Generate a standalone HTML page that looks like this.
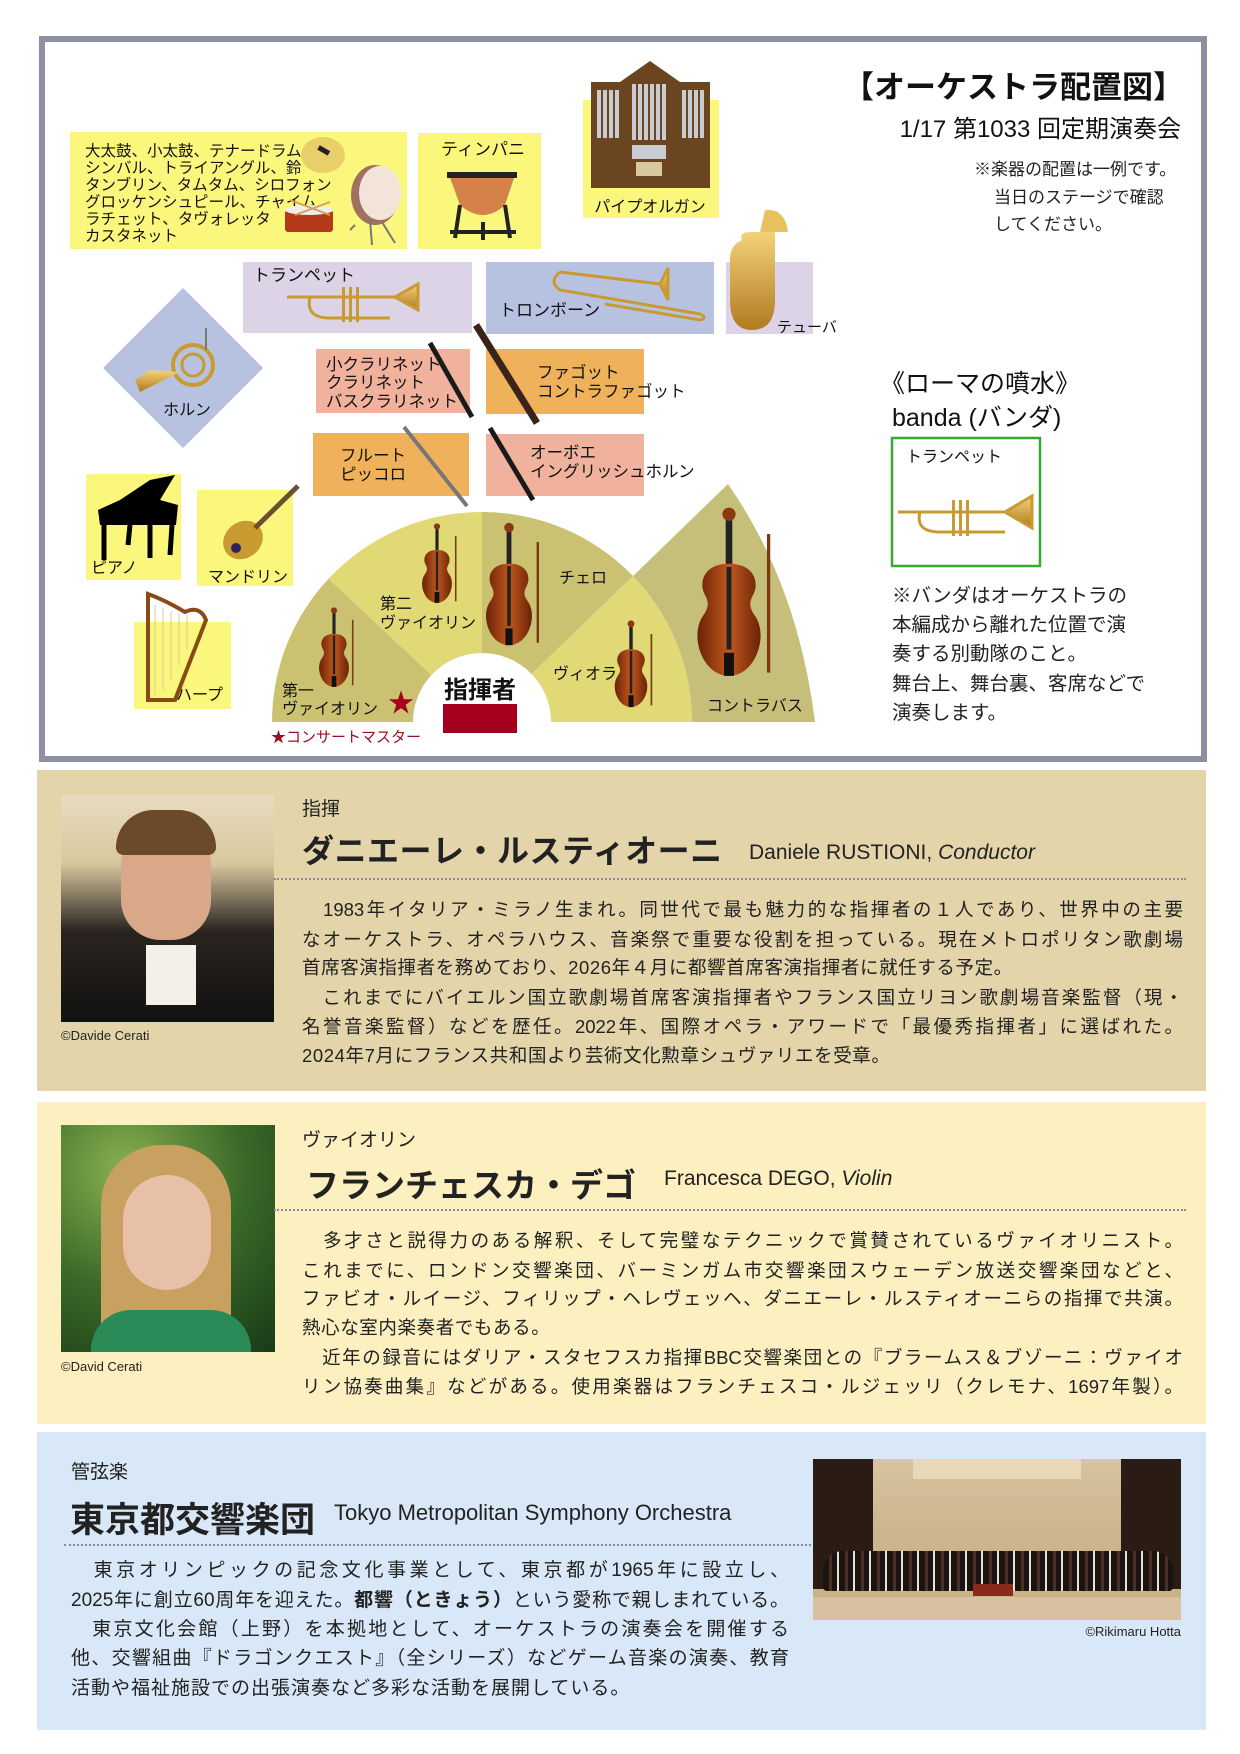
<!DOCTYPE html>
<html><head><meta charset="utf-8">
<style>
*{margin:0;padding:0;box-sizing:border-box}
body{width:1240px;height:1754px;background:#fff;position:relative;overflow:hidden;font-family:"Liberation Sans","Noto Sans CJK JP",sans-serif;color:#222}
.a{position:absolute;white-space:nowrap}
.ln{position:absolute;white-space:nowrap;line-height:1}
.j{text-align:justify;text-align-last:justify}
.panel{position:absolute;left:37px;width:1169px}
.dot{position:absolute;border-top:2px dotted #8a8aa0;height:0}
</style></head><body>

<svg class="a" style="left:0;top:0" width="1240" height="770" viewBox="0 0 1240 770" font-family="Liberation Sans, Noto Sans CJK JP, sans-serif">
<defs>
<linearGradient id="wood" x1="0" x2="1"><stop offset="0" stop-color="#6a2208"/><stop offset=".5" stop-color="#c0581c"/><stop offset="1" stop-color="#6a2208"/></linearGradient>
<linearGradient id="gold" x1="0" x2="0" y1="0" y2="1"><stop offset="0" stop-color="#f4d27a"/><stop offset="1" stop-color="#b07a20"/></linearGradient>
<g id="vln">
<rect x="-2" y="-50" width="4" height="32" fill="#222"/>
<circle cx="0" cy="-52" r="4" fill="#8a3a10"/>
<path d="M0,-22 C-16,-22 -18,-10 -15,-4 C-12,2 -12,4 -16,10 C-24,22 -16,46 0,46 C16,46 24,22 16,10 C12,4 12,2 15,-4 C18,-10 16,-22 0,-22Z" fill="url(#wood)"/>
<rect x="-1.5" y="-20" width="3" height="50" fill="#222"/>
<rect x="-3" y="32" width="6" height="14" fill="#111"/>
<line x1="24" y1="-40" x2="24" y2="44" stroke="#7a3a14" stroke-width="2"/>
</g>
</defs>
<rect x="42" y="39" width="1162" height="720" fill="#fff" stroke="#8c90a2" stroke-width="6"/>

<rect x="70" y="132" width="337" height="117" fill="#fbf77c"/>
<g font-size="15.5" fill="#111">
<text x="85" y="156">大太鼓、小太鼓、テナードラム</text>
<text x="85" y="173">シンバル、トライアングル、鈴</text>
<text x="85" y="190">タンブリン、タムタム、シロフォン</text>
<text x="85" y="207">グロッケンシュピール、チャイム</text>
<text x="85" y="224">ラチェット、タヴォレッタ</text>
<text x="85" y="241">カスタネット</text>
</g>
<ellipse cx="323" cy="155" rx="22" ry="18" fill="#e8cf6a"/><rect x="318" y="148" width="12" height="5" fill="#222" transform="rotate(30 324 150)"/>
<ellipse cx="375" cy="195" rx="24" ry="30" fill="#a07060"/><ellipse cx="380" cy="193" rx="21" ry="27" fill="#f3e4da"/>
<path d="M355,225 L350,230 M370,220 L372,245 M382,222 L395,243" stroke="#777" stroke-width="2"/>
<rect x="285" y="210" width="48" height="22" fill="#b53a1a" rx="3"/><ellipse cx="309" cy="210" rx="24" ry="5" fill="#eee"/>
<line x1="290" y1="200" x2="330" y2="215" stroke="#d8a050" stroke-width="2"/><line x1="295" y1="215" x2="330" y2="202" stroke="#d8a050" stroke-width="2"/>
<rect x="418" y="133" width="123" height="116" fill="#fbf77c"/>
<text x="483" y="155" font-size="17" text-anchor="middle" fill="#111">ティンパニ</text>
<path d="M449,175 L515,175 L505,205 Q483,225 460,205 Z" fill="#d5814a"/>
<rect x="447" y="172" width="70" height="6" fill="#222"/>
<path d="M460,205 L455,238 M505,205 L510,238 M483,222 L483,240 M450,232 L516,232" stroke="#222" stroke-width="4"/>
<rect x="583" y="100" width="136" height="118" fill="#fbf77c"/>
<path d="M591,82 L620,82 L650,61 L680,82 L710,82 L710,188 L591,188 Z" fill="#6b4520"/>
<g fill="#c8ccd2">
<rect x="597" y="90" width="4" height="48"/><rect x="603" y="90" width="4" height="48"/><rect x="609" y="90" width="4" height="48"/><rect x="615" y="90" width="4" height="48"/>
<rect x="632" y="84" width="4" height="56"/><rect x="638" y="84" width="4" height="56"/><rect x="644" y="84" width="4" height="56"/><rect x="650" y="84" width="4" height="56"/><rect x="656" y="84" width="4" height="56"/><rect x="662" y="84" width="4" height="56"/>
<rect x="682" y="90" width="4" height="48"/><rect x="688" y="90" width="4" height="48"/><rect x="694" y="90" width="4" height="48"/><rect x="700" y="90" width="4" height="48"/>
<rect x="632" y="145" width="34" height="14"/>
</g>
<rect x="636" y="162" width="26" height="14" fill="#d8c8a0"/>
<text x="650" y="212" font-size="16" text-anchor="middle" fill="#111">パイプオルガン</text>

<rect x="243" y="262" width="229" height="71" fill="#dcd4e6"/>
<text x="253" y="281" font-size="17" fill="#111">トランペット</text>
<g stroke="#c99a30" fill="none" stroke-width="3"><path d="M287,297 L395,297"/><path d="M310,297 Q305,318 330,318 L390,318"/><path d="M395,297 L418,284 L418,310 Z" fill="url(#gold)"/></g>
<g fill="#c99a30"><rect x="342" y="287" width="3" height="35"/><rect x="349" y="287" width="3" height="35"/><rect x="356" y="287" width="3" height="35"/></g>
<rect x="486" y="262" width="228" height="72" fill="#b7c2e0"/>
<text x="499" y="316" font-size="17" fill="#111">トロンボーン</text>
<g stroke="#c99a30" fill="none" stroke-width="3"><path d="M560,272 L660,284"/><path d="M560,272 Q548,282 560,290 L700,314 Q708,318 700,320 L605,304"/><path d="M660,284 L668,268 L668,300 Z" fill="url(#gold)"/></g>
<rect x="726" y="262" width="87" height="72" fill="#dcd4e6"/>
<path d="M742,240 Q738,232 752,232 L775,232 L775,300 Q775,330 752,330 Q730,330 730,300 L730,260 Q730,245 742,240Z" fill="url(#gold)"/>
<path d="M760,232 L765,210 Q785,208 788,232 Z" fill="#e8c060"/>
<text x="777" y="332" font-size="15" fill="#111">テューバ</text>
<polygon points="183,288 263,368 183,448 103,368" fill="#b7c2e0"/>
<circle cx="193" cy="365" r="20" fill="none" stroke="#c99a30" stroke-width="4"/>
<circle cx="193" cy="365" r="11" fill="none" stroke="#c99a30" stroke-width="3"/>
<path d="M180,372 L140,392 L135,380 L150,370 Z" fill="url(#gold)"/>
<line x1="206" y1="350" x2="206" y2="328" stroke="#777" stroke-width="2"/>
<text x="187" y="415" font-size="16" text-anchor="middle" fill="#111">ホルン</text>

<rect x="316" y="349" width="154" height="64" fill="#f0b29c"/>
<g font-size="16.5" fill="#111"><text x="326" y="370">小クラリネット</text><text x="326" y="388">クラリネット</text><text x="326" y="407">バスクラリネット</text></g>
<line x1="430" y1="343" x2="472" y2="417" stroke="#1a1a1a" stroke-width="5"/>
<rect x="486" y="349" width="158" height="65" fill="#efb25a"/>
<g font-size="16.5" fill="#111"><text x="537" y="378">ファゴット</text><text x="537" y="397">コントラファゴット</text></g>
<line x1="476" y1="325" x2="537" y2="423" stroke="#3a2418" stroke-width="7"/>
<rect x="313" y="433" width="156" height="63" fill="#efb25a"/>
<g font-size="16.5" fill="#111"><text x="340" y="461">フルート</text><text x="340" y="480">ピッコロ</text></g>
<line x1="404" y1="427" x2="467" y2="506" stroke="#777" stroke-width="4"/>
<rect x="486" y="434" width="158" height="62" fill="#f0b29c"/>
<g font-size="16.5" fill="#111"><text x="530" y="458">オーボエ</text><text x="530" y="477">イングリッシュホルン</text></g>
<line x1="490" y1="428" x2="533" y2="500" stroke="#1a1a1a" stroke-width="5"/>

<rect x="86" y="474" width="95" height="106" fill="#fbf77c"/>
<path d="M120,500 L150,480 L175,475 L160,500 L178,505 L176,525 L100,525 L98,510 Z" fill="#000"/>
<path d="M104,525 L104,560 M150,525 L150,558 M172,525 L170,555 M130,525 L128,545" stroke="#000" stroke-width="5"/>
<text x="91" y="573" font-size="16" fill="#111">ピアノ</text>
<rect x="197" y="490" width="96" height="96" fill="#fbf77c"/>
<ellipse cx="243" cy="540" rx="21" ry="18" fill="#c89a30" transform="rotate(-40 243 540)"/>
<line x1="255" y1="528" x2="298" y2="486" stroke="#6a5030" stroke-width="5"/>
<circle cx="236" cy="548" r="5" fill="#302060"/>
<text x="208" y="582" font-size="16" fill="#111">マンドリン</text>
<rect x="134" y="622" width="97" height="87" fill="#fbf77c"/>
<path d="M148,594 L148,700 L175,700 L206,620 Q200,605 185,612 Q165,600 148,594Z" fill="none" stroke="#8a4a18" stroke-width="4"/>
<g stroke="#d8c8a0" stroke-width="1"><line x1="155" y1="605" x2="155" y2="695"/><line x1="163" y1="608" x2="163" y2="690"/><line x1="171" y1="611" x2="171" y2="680"/><line x1="179" y1="613" x2="179" y2="665"/><line x1="187" y1="614" x2="187" y2="650"/></g>
<text x="176" y="700" font-size="16" fill="#111">ハープ</text>

<path d="M413,722 L272,722 A210,210 0 0 1 328.5,578.8 L431.5,675 A69,69 0 0 0 413,722Z" fill="#cac271"/>
<path d="M431.5,675 L328.5,578.8 A210,210 0 0 1 482,512 L482,653 A69,69 0 0 0 431.5,675Z" fill="#e0d975"/>
<path d="M482,653 L482,512 A210,210 0 0 1 633,576 L531.6,674 A69,69 0 0 0 482,653Z" fill="#cac271"/>
<path d="M531.6,674 L633,576 A210,210 0 0 1 692,722 L551,722 A69,69 0 0 0 531.6,674Z" fill="#e0d975"/>
<path d="M633,576 L728,484 Q798,585 815,722 L692,722 A210,210 0 0 0 633,576Z" fill="#c6bf79"/>
<use href="#vln" transform="translate(334,651) scale(0.78)"/>
<use href="#vln" transform="translate(437,567) scale(0.78)"/>
<use href="#vln" transform="translate(509,590) scale(1.2)"/>
<use href="#vln" transform="translate(631,668) scale(0.85)"/>
<use href="#vln" transform="translate(729,600) scale(1.65)"/>
<g font-size="16" fill="#111">
<text x="282" y="696">第一</text><text x="282" y="714">ヴァイオリン</text>
<text x="380" y="609">第二</text><text x="380" y="628">ヴァイオリン</text>
<text x="559" y="583">チェロ</text>
<text x="553" y="679">ヴィオラ</text>
<text x="707" y="711">コントラバス</text>
</g>
<text x="401" y="712" font-size="26" fill="#a8001c" text-anchor="middle">★</text>
<text x="480" y="698" font-size="24" font-weight="bold" fill="#111" text-anchor="middle">指揮者</text>
<rect x="443" y="704" width="74" height="29" fill="#a5001e"/>
<text x="271" y="742" font-size="15" fill="#9a1020">★コンサートマスター</text>

<text x="1184" y="98" font-size="31" fill="#111" text-anchor="end" font-weight="600">【オーケストラ配置図】</text>
<text x="1181" y="137" font-size="24" fill="#111" text-anchor="end">1/17 第1033 回定期演奏会</text>
<g font-size="17" fill="#222"><text x="974" y="175">※楽器の配置は一例です。</text><text x="994" y="203">当日のステージで確認</text><text x="994" y="230">してください。</text></g>
<text x="880" y="392" font-size="25" fill="#111">《ローマの噴水》</text>
<text x="892" y="426" font-size="25" fill="#111">banda (バンダ)</text>
<rect x="892" y="438" width="148" height="128" fill="#fff" stroke="#3aa830" stroke-width="2.5"/>
<text x="906" y="462" font-size="16" fill="#111">トランペット</text>
<g stroke="#c99a30" fill="none" stroke-width="3"><path d="M898,512 L1010,512"/><path d="M920,512 Q915,532 940,532 L1005,532"/><path d="M1005,512 L1032,496 L1032,528 Z" fill="url(#gold)"/></g>
<g fill="#c99a30"><rect x="952" y="500" width="3" height="36"/><rect x="959" y="500" width="3" height="36"/><rect x="966" y="500" width="3" height="36"/></g>
<g font-size="19.5" fill="#222">
<text x="892" y="602">※バンダはオーケストラの</text>
<text x="892" y="631">本編成から離れた位置で演</text>
<text x="892" y="660">奏する別動隊のこと。</text>
<text x="892" y="690">舞台上、舞台裏、客席などで</text>
<text x="892" y="719">演奏します。</text>
</g>
</svg>

<div class="panel" style="top:770px;height:321px;background:#e3d4a9"></div>
<div class="a" style="left:61px;top:795px;width:213px;height:227px;background:linear-gradient(180deg,#e8dcc0 0%,#d8c8a0 30%,#2a2420 60%,#111 100%)">
 <div class="a" style="left:60px;top:25px;width:90px;height:120px;border-radius:45px 45px 40px 40px;background:#d8a888"></div>
 <div class="a" style="left:55px;top:15px;width:100px;height:45px;border-radius:50px 50px 10px 10px;background:#6a4a2a"></div>
 <div class="a" style="left:85px;top:150px;width:50px;height:60px;background:#f4f0e8"></div>
</div>
<div class="a" style="left:61px;top:1028px;font-size:13px">©Davide Cerati</div>
<div class="a" style="left:302px;top:794px;font-size:19px">指揮</div>
<div class="a" style="left:302px;top:826px;font-size:32px;font-weight:bold;letter-spacing:0.5px">ダニエーレ・ルスティオーニ</div>
<div class="a" style="left:749px;top:841px;font-size:21px">Daniele RUSTIONI, <i>Conductor</i></div>
<div class="dot" style="left:274px;top:878px;width:912px"></div>
<div style="position:absolute;left:302px;top:0;width:881px;font-size:18.5px">
<div class="ln j" style="top:901px;width:881px">　1983年イタリア・ミラノ生まれ。同世代で最も魅力的な指揮者の１人であり、世界中の主要</div>
<div class="ln j" style="top:931px;width:881px">なオーケストラ、オペラハウス、音楽祭で重要な役割を担っている。現在メトロポリタン歌劇場</div>
<div class="ln" style="top:959px;letter-spacing:0.6px">首席客演指揮者を務めており、2026年４月に都響首席客演指揮者に就任する予定。</div>
<div class="ln j" style="top:989px;width:881px">　これまでにバイエルン国立歌劇場首席客演指揮者やフランス国立リヨン歌劇場音楽監督（現・</div>
<div class="ln j" style="top:1018px;width:881px">名誉音楽監督）などを歴任。2022年、国際オペラ・アワードで「最優秀指揮者」に選ばれた。</div>
<div class="ln" style="top:1047px;letter-spacing:0.6px">2024年7月にフランス共和国より芸術文化勲章シュヴァリエを受章。</div>
</div>

<div class="panel" style="top:1102px;height:322px;background:#fcefc0"></div>
<div class="a" style="left:61px;top:1125px;width:214px;height:227px;background:radial-gradient(circle at 30% 20%,#8ab050,#3a6a28 50%,#1a3a18 100%)">
 <div class="a" style="left:40px;top:20px;width:130px;height:207px;border-radius:60px 60px 10px 10px;background:#c8a060"></div>
 <div class="a" style="left:62px;top:50px;width:88px;height:115px;border-radius:44px;background:#e8c0a8"></div>
 <div class="a" style="left:30px;top:185px;width:160px;height:42px;border-radius:40px 40px 0 0;background:#2a8a58"></div>
</div>
<div class="a" style="left:61px;top:1359px;font-size:13px">©David Cerati</div>
<div class="a" style="left:302px;top:1125px;font-size:19px">ヴァイオリン</div>
<div class="a" style="left:306px;top:1159px;font-size:33px;font-weight:bold">フランチェスカ・デゴ</div>
<div class="a" style="left:664px;top:1167px;font-size:21px">Francesca DEGO, <i>Violin</i></div>
<div class="dot" style="left:274px;top:1209px;width:912px"></div>
<div style="position:absolute;left:302px;top:0;width:881px;font-size:18.5px">
<div class="ln j" style="top:1232px;width:881px">　多才さと説得力のある解釈、そして完璧なテクニックで賞賛されているヴァイオリニスト。</div>
<div class="ln j" style="top:1262px;width:881px">これまでに、ロンドン交響楽団、バーミンガム市交響楽団スウェーデン放送交響楽団などと、</div>
<div class="ln j" style="top:1290px;width:881px">ファビオ・ルイージ、フィリップ・ヘレヴェッヘ、ダニエーレ・ルスティオーニらの指揮で共演。</div>
<div class="ln" style="top:1319px;letter-spacing:0.6px">熱心な室内楽奏者でもある。</div>
<div class="ln j" style="top:1349px;width:881px">　近年の録音にはダリア・スタセフスカ指揮BBC交響楽団との『ブラームス＆ブゾーニ：ヴァイオ</div>
<div class="ln j" style="top:1378px;width:881px">リン協奏曲集』などがある。使用楽器はフランチェスコ・ルジェッリ（クレモナ、1697年製）。</div>
</div>

<div class="panel" style="top:1432px;height:298px;background:#d9e8f8"></div>
<div class="a" style="left:71px;top:1457px;font-size:19px">管弦楽</div>
<div class="a" style="left:70px;top:1492px;font-size:35px;font-weight:bold">東京都交響楽団</div>
<div class="a" style="left:334px;top:1500px;font-size:22px">Tokyo Metropolitan Symphony Orchestra</div>
<div class="dot" style="left:64px;top:1544px;width:747px"></div>
<div style="position:absolute;left:71px;top:0;width:718px;font-size:19px">
<div class="ln j" style="top:1561px;width:718px">　東京オリンピックの記念文化事業として、東京都が1965年に設立し、</div>
<div class="ln j" style="top:1591px;width:718px">2025年に創立60周年を迎えた。<b>都響（ときょう）</b>という愛称で親しまれている。</div>
<div class="ln j" style="top:1620px;width:718px">　東京文化会館（上野）を本拠地として、オーケストラの演奏会を開催する</div>
<div class="ln j" style="top:1649px;width:718px">他、交響組曲『ドラゴンクエスト』（全シリーズ）などゲーム音楽の演奏、教育</div>
<div class="ln" style="top:1679px;letter-spacing:1px">活動や福祉施設での出張演奏など多彩な活動を展開している。</div>
</div>
<div class="a" style="left:813px;top:1459px;width:368px;height:161px;overflow:hidden;background:linear-gradient(180deg,#d8c4a0 0%,#cdb690 40%,#c8b088 100%)">
 <div class="a" style="left:0;top:0;width:60px;height:130px;background:#2a1c14"></div>
 <div class="a" style="left:308px;top:0;width:60px;height:130px;background:#2a1c14"></div>
 <div class="a" style="left:100px;top:0;width:168px;height:20px;background:#e8d8b8"></div>
 <div class="a" style="left:10px;top:92px;width:350px;height:40px;background:repeating-linear-gradient(90deg,#1a1410 0 6px,#4a3020 6px 9px,#1a1410 9px 14px,#e8e0d0 14px 16px);border-radius:20px 20px 4px 4px"></div>
 <div class="a" style="left:160px;top:125px;width:40px;height:12px;background:#8a2a1a"></div>
 <div class="a" style="left:0;top:138px;width:368px;height:23px;background:#d8c0a0"></div>
</div>
<div class="a" style="left:1060px;top:1624px;font-size:13px;width:121px;text-align:right">©Rikimaru Hotta</div>
</body></html>
